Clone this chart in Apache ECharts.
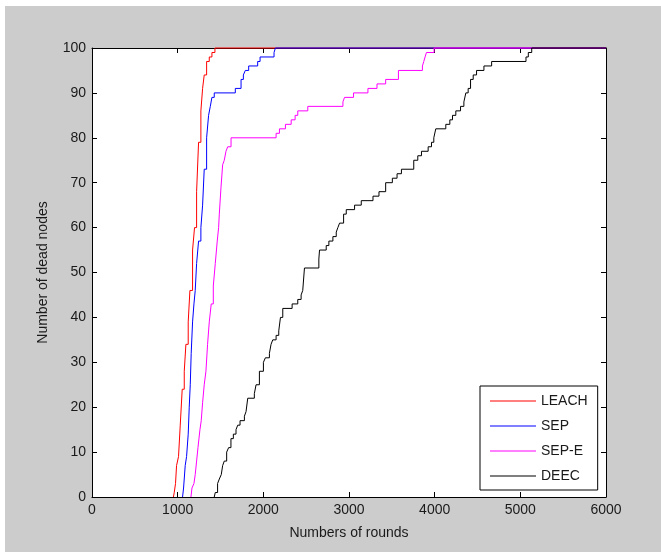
<!DOCTYPE html>
<html>
<head>
<meta charset="utf-8">
<title>Number of dead nodes</title>
<script src="https://cdn.jsdelivr.net/npm/echarts@6/dist/echarts.min.js"></script>
<style>
  html, body { margin: 0; padding: 0; background: #fff; }
  .page { position: relative; width: 661px; height: 552px; background: #fff; }
  .com-chart { position: absolute; left: 5px; top: 6px; width: 656px; height: 546px; background: #cccccc; }
</style>
</head>
<body>
<div class="page">
  <div class="com-chart" id="main"></div>
</div>
<script>
// series names
const seriesNames = ['LEACH', 'SEP', 'SEP-E', 'DEEC']
const seriesColors = ['#ff0000', '#0000ff', '#ff00ff', '#000000']

// rounds at which the dead-node count steps up, and the count after the step
const leachRounds = [950, 960, 975, 987, 1010, 1030, 1053, 1077, 1096, 1123, 1143, 1174, 1197, 1221, 1244, 1271, 1291, 1310, 1338, 1369, 1400, 1435, 6000]
const leachDead = [0, 1, 3, 7, 9, 16, 24, 28, 34, 39, 46, 55, 60, 68, 79, 86, 91, 94, 97, 98, 99, 100, 100]

const sepRounds = [1057, 1069, 1088, 1104, 1123, 1135, 1147, 1158, 1174, 1190, 1205, 1221, 1244, 1271, 1291, 1310, 1338, 1361, 1381, 1400, 1427, 1673, 1740, 1767, 1790, 1829, 1934, 1962, 2125, 2141, 6000]
const sepDead = [0, 2, 7, 9, 14, 20, 25, 32, 39, 43, 46, 52, 57, 60, 65, 73, 80, 85, 87, 89, 90, 91, 93, 94, 95, 96, 97, 98, 99, 100, 100]

const sepeRounds = [1155, 1167, 1190, 1205, 1221, 1237, 1260, 1275, 1291, 1310, 1330, 1349, 1369, 1392, 1416, 1439, 1462, 1478, 1486, 1506, 1525, 1544, 1564, 1584, 1623, 2149, 2188, 2258, 2325, 2371, 2402, 2519, 2929, 2948, 3053, 3221, 3327, 3428, 3577, 3857, 3873, 3888, 3904, 3993, 6000]
const sepeDead = [0, 2, 3, 5, 8, 11, 15, 17, 21, 25, 28, 34, 39, 43, 47, 52, 57, 60, 63, 69, 74, 75, 77, 78, 80, 81, 82, 83, 84, 85, 86, 87, 88, 89, 90, 91, 92, 93, 95, 96, 97, 98, 99, 100, 100]

const deecRounds = [1427, 1439, 1466, 1486, 1509, 1525, 1544, 1572, 1595, 1622, 1650, 1681, 1701, 1728, 1779, 1798, 1818, 1895, 1915, 1954, 2001, 2024, 2071, 2090, 2110, 2149, 2180, 2200, 2227, 2336, 2402, 2441, 2460, 2480, 2648, 2656, 2734, 2765, 2812, 2851, 2870, 2890, 2937, 2968, 3065, 3143, 3280, 3350, 3428, 3506, 3561, 3612, 3756, 3803, 3846, 3924, 3963, 3990, 4013, 4130, 4177, 4208, 4247, 4302, 4341, 4364, 4391, 4419, 4450, 4489, 4575, 4665, 5066, 5093, 5133, 6000]
const deecDead = [0, 1, 3, 4, 5, 7, 8, 10, 11, 13, 14, 15, 16, 17, 18, 19, 22, 23, 25, 28, 30, 31, 32, 34, 35, 36, 37, 40, 42, 43, 44, 45, 46, 51, 53, 55, 56, 57, 58, 59, 60, 61, 63, 64, 65, 66, 67, 68, 70, 71, 72, 73, 75, 76, 77, 78, 79, 80, 82, 83, 84, 85, 86, 87, 88, 90, 91, 93, 94, 95, 96, 97, 98, 99, 100, 100]

// axis ticks
const xTicks = { min: 0, max: 6000, interval: 1000 }
const yTicks = { min: 0, max: 100, interval: 10 }

const allRounds = [leachRounds, sepRounds, sepeRounds, deecRounds]
const allDead = [leachDead, sepDead, sepeDead, deecDead]

const fontFamily = '"Liberation Sans", Arial, sans-serif'
const textColor = '#1a1a1a'

const chart = echarts.init(document.getElementById('main'))

// 拼出每条折线的点
const series = seriesNames.map((name, i) => {
  return {
    name: name,
    type: 'line',
    step: 'end',
    symbol: 'none',
    showSymbol: false,
    clip: false,
    data: allRounds[i].map((r, k) => [r, allDead[i][k]]),
    lineStyle: { width: 1, color: seriesColors[i] },
    itemStyle: { color: seriesColors[i] },
    emphasis: { disabled: true }
  }
})

const axisCommon = {
  axisLine: { show: true, onZero: false, lineStyle: { color: '#000', width: 1 } },
  axisTick: { show: true, inside: true, length: 5, lineStyle: { color: '#000', width: 1 } },
  splitLine: { show: false }
}

const option = {
  animation: false,
  backgroundColor: 'transparent',
  grid: {
    left: 87,
    top: 42,
    width: 514,
    height: 449,
    show: true,
    backgroundColor: '#fff',
    borderWidth: 0
  },
  legend: {
    orient: 'vertical',
    left: 475,
    top: 380,
    align: 'left',
    icon: 'rect',
    itemWidth: 46,
    itemHeight: 1,
    itemGap: 11,
    padding: [8, 10, 7, 10],
    backgroundColor: '#fff',
    borderColor: '#000',
    borderWidth: 1,
    borderRadius: 0,
    selectedMode: false,
    textStyle: { fontFamily: fontFamily, fontSize: 14, color: textColor, lineHeight: 14 },
    data: seriesNames
  },
  xAxis: [
    Object.assign({}, axisCommon, {
      type: 'value',
      position: 'bottom',
      min: xTicks.min,
      max: xTicks.max,
      interval: xTicks.interval,
      name: 'Numbers of rounds',
      nameLocation: 'middle',
      nameGap: 29,
      nameTextStyle: { fontFamily: fontFamily, fontSize: 14, color: textColor },
      axisLabel: {
        margin: 6,
        fontFamily: fontFamily,
        fontSize: 14,
        color: textColor,
        formatter: (v) => String(v)
      }
    }),
    Object.assign({}, axisCommon, {
      type: 'value',
      position: 'top',
      min: xTicks.min,
      max: xTicks.max,
      interval: xTicks.interval,
      axisLabel: { show: false }
    })
  ],
  yAxis: [
    Object.assign({}, axisCommon, {
      type: 'value',
      position: 'left',
      min: yTicks.min,
      max: yTicks.max,
      interval: yTicks.interval,
      name: 'Number of dead nodes',
      nameLocation: 'middle',
      nameGap: 42,
      nameTextStyle: { fontFamily: fontFamily, fontSize: 14, color: textColor },
      axisLabel: { margin: 6, fontFamily: fontFamily, fontSize: 14, color: textColor }
    }),
    Object.assign({}, axisCommon, {
      type: 'value',
      position: 'right',
      min: yTicks.min,
      max: yTicks.max,
      interval: yTicks.interval,
      axisLabel: { show: false }
    })
  ],
  series: series
}

chart.setOption(option)
</script>
</body>
</html>
